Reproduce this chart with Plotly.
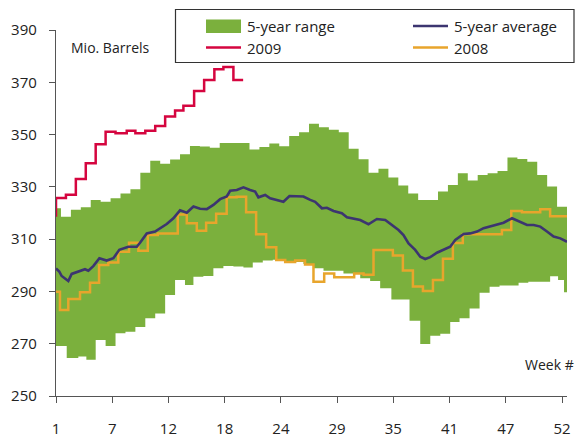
import plotly.graph_objects as go

# ---------------- data ----------------
# 5-year range: upper bound, one value per week 1..52 (+ end of week 52)
range_upper_weeks = list(range(1, 53)) + [52.5]
range_upper = [321.8, 318.6, 321.2, 322.2, 325.0, 324.3, 325.6, 327.5, 329.1, 335.4,
               340.0, 338.8, 340.5, 342.5, 345.6, 345.4, 345.0, 346.8, 346.8, 346.8,
               344.3, 345.2, 346.6, 345.5, 349.5, 350.9, 354.1, 352.8, 351.8, 350.9,
               344.6, 340.6, 335.4, 336.9, 333.6, 330.5, 327.5, 325.0, 325.0, 328.2,
               330.7, 335.2, 332.4, 334.5, 335.2, 336.1, 341.2, 340.7, 339.6, 334.5,
               330.1, 322.4, 322.4]

# 5-year range: lower bound (step start week, value)
range_lower_weeks = [1, 2.08, 3.25, 4.06, 5, 6, 7, 8, 9, 10,
                     11, 12, 13, 14, 14.85, 15.85, 16.86, 17.87, 18.88, 19.89,
                     20.83, 21.84, 22.85, 23.86, 24.93, 25.94, 26.95, 27.96, 29.97, 31.66,
                     32.66, 33.67, 34.8, 36.63, 37.71, 38.72, 39.73, 40.73, 41.67, 42.68,
                     43.69, 44.7, 45.7, 47.62, 48.6, 50.8, 51.6, 52.2, 52.5]
range_lower = [269.1, 264.5, 265.1, 263.9, 271.4, 269.1, 274.0, 274.6, 276.4, 279.7,
               281.6, 288.6, 294.4, 292.5, 295.6, 295.9, 298.9, 299.7, 299.5, 299.2,
               301.1, 301.8, 302.1, 301.6, 301.3, 300.5, 298.9, 297.9, 296.9, 295.0,
               294.0, 291.2, 286.9, 278.8, 269.9, 273.0, 273.8, 278.3, 279.7, 283.5,
               289.5, 291.8, 292.3, 293.3, 293.7, 295.8, 294.4, 289.7, 289.7]

# 5-year average
avg_weeks = [1.0, 1.33, 1.57, 2.24, 2.58, 3.25, 3.92, 4.26, 4.76, 5.37,
             6.11, 6.78, 7.38, 8.29, 9.14, 9.47, 10.15, 10.98, 11.49, 12.16,
             12.83, 13.5, 14.18, 14.85, 15.52, 16.2, 16.86, 17.54, 18.21, 18.55,
             19.22, 19.89, 20.56, 21.07, 21.4, 22.08, 22.58, 23.26, 23.92, 24.53,
             25.27, 25.94, 26.62, 27.12, 27.8, 28.3, 28.97, 29.81, 30.32, 30.98,
             31.66, 32.49, 33.34, 34.18, 34.85, 35.52, 36.02, 36.53, 37.2, 37.71,
             38.21, 38.72, 39.39, 40.06, 40.73, 41.24, 42.08, 42.75, 43.43, 44.09,
             45.1, 46.11, 46.96, 47.79, 48.47, 49.14, 49.81, 50.48, 51.15, 51.83,
             52.5]
avg_values = [298.8, 297.6, 295.9, 294.0, 296.7, 297.6, 298.5, 297.9, 299.7, 302.7,
              301.8, 302.7, 305.9, 307.1, 307.1, 308.6, 312.2, 312.9, 314.2, 315.8,
              318.0, 321.0, 320.1, 322.5, 321.6, 321.5, 323.1, 325.3, 326.3, 328.5,
              328.8, 329.8, 328.8, 328.2, 326.0, 326.9, 325.6, 325.0, 324.3, 326.5,
              326.3, 326.3, 325.0, 324.3, 321.8, 322.0, 320.8, 319.9, 318.4, 318.0,
              317.3, 315.7, 317.7, 317.3, 315.4, 313.5, 311.6, 308.4, 305.9, 303.3,
              302.4, 303.1, 304.8, 306.0, 307.1, 309.7, 312.0, 312.2, 312.9, 314.2,
              315.4, 316.3, 318.0, 316.7, 315.4, 315.4, 314.8, 312.9, 311.0, 310.3,
              309.0]

# 2009 (step start week, value)
weeks_2009 = [1, 1, 2, 3, 4, 5, 6, 7, 8.13, 9,
              10, 11, 12, 13, 13.84, 14.92, 15.93, 16.96, 17.87, 18.88,
              19.86]
values_2009 = [318.6, 325.7, 327.0, 333.0, 339.0, 346.3, 351.1, 350.5, 351.5, 350.5,
               351.5, 353.3, 356.9, 359.2, 361.0, 366.7, 370.9, 375.0, 375.8, 370.9,
               370.9]

# 2008 (step start week, value)
weeks_2008 = [1, 1.4, 2.24, 3.42, 4.43, 5.34, 6.27, 7.28, 8.36, 9.3,
              10.25, 11.26, 13.27, 14.18, 15.19, 16.13, 17.14, 18.2, 19.2, 20.16,
              21.17, 22.18, 23.2, 24.1, 25.1, 26.1, 26.95, 28.03, 29.04, 31.05,
              32.0, 33.0, 34.95, 35.96, 36.97, 37.98, 38.99, 40.0, 41.0, 42.0,
              45.94, 46.88, 47.96, 49.8, 50.8, 52.5]
values_2008 = [289.9, 282.9, 287.1, 289.7, 293.3, 300.1, 301.1, 305.2, 308.6, 305.6,
               311.6, 312.2, 319.4, 316.1, 313.2, 316.3, 319.7, 326.0, 326.2, 320.3,
               311.9, 306.9, 302.0, 301.3, 301.8, 300.3, 293.7, 296.9, 295.4, 296.9,
               296.4, 305.8, 303.7, 298.0, 291.9, 290.2, 294.4, 302.5, 308.5, 311.9,
               313.5, 320.8, 320.3, 321.4, 318.8, 318.8]

# axis ticks
x_tick_pos = [1, 6.67, 12.33, 18, 23.67, 29.33, 35, 40.67, 46.33, 52]
x_tick_labels = ["1", "7", "12", "18", "24", "29", "35", "41", "47", "52"]
y_ticks = [250, 270, 290, 310, 330, 350, 370, 390]

# ---------------- styling ----------------
GREEN = "#7bb03d"
RED = "#d5053f"
PURPLE = "#3c3570"
ORANGE = "#e8a52c"
AXIS = "#555555"
TEXT = "#222222"
FONT = "Open Sans"

W, H = 576, 437
ML, MR, MT, MB = 56, 9, 30, 41
PW, PH = W - ML - MR, H - MT - MB


def px_x(x):
    return (x - ML) / PW


def px_y(y):
    return (H - MB - y) / PH


fig = go.Figure()

fig.add_trace(go.Scatter(x=range_lower_weeks, y=range_lower, mode="lines",
                         line=dict(width=0, shape="hv", color=GREEN),
                         hoverinfo="skip", showlegend=False))
fig.add_trace(go.Scatter(x=range_upper_weeks, y=range_upper, mode="lines",
                         line=dict(width=0, shape="hvh", color=GREEN),
                         fill="tonexty", fillcolor=GREEN,
                         name="5-year range", showlegend=False))
fig.add_trace(go.Scatter(x=weeks_2008, y=values_2008, mode="lines",
                         line=dict(width=2.5, shape="hv", color=ORANGE),
                         name="2008", showlegend=False))
fig.add_trace(go.Scatter(x=avg_weeks, y=avg_values, mode="lines",
                         line=dict(width=2.6, color=PURPLE),
                         name="5-year average", showlegend=False))
fig.add_trace(go.Scatter(x=weeks_2009, y=values_2009, mode="lines",
                         line=dict(width=2.5, shape="hv", color=RED),
                         name="2009", showlegend=False))

shapes = []
annotations = []

# legend box
shapes.append(dict(type="rect", xref="paper", yref="paper",
                   x0=px_x(175.5), x1=px_x(574), y0=px_y(62.5), y1=px_y(9.5),
                   line=dict(color="#333333", width=1.2), fillcolor="white", layer="above"))
# legend swatches
shapes.append(dict(type="rect", xref="paper", yref="paper",
                   x0=px_x(206), x1=px_x(241), y0=px_y(33), y1=px_y(19.5),
                   line=dict(width=0), fillcolor=GREEN, layer="above"))
for (x0, x1, yy, col) in [(206, 241, 47.5, RED), (413, 448, 26, PURPLE), (413, 448, 47.5, ORANGE)]:
    shapes.append(dict(type="line", xref="paper", yref="paper",
                       x0=px_x(x0), x1=px_x(x1), y0=px_y(yy), y1=px_y(yy),
                       line=dict(color=col, width=2.5), layer="above"))
for (xx, yy, txt) in [(245, 26, "5-year range"), (245, 48, "2009"),
                      (452, 26, "5-year average"), (452, 48, "2008")]:
    annotations.append(dict(xref="paper", yref="paper", x=px_x(xx), y=px_y(yy),
                            text=txt, showarrow=False, xanchor="left", yanchor="middle",
                            font=dict(family=FONT, size=15, color=TEXT)))

annotations.append(dict(xref="paper", yref="paper", x=px_x(69), y=px_y(47.5),
                        text="Mio. Barrels", showarrow=False, xanchor="left",
                        yanchor="middle", font=dict(family=FONT, size=14, color=TEXT)))
annotations.append(dict(xref="paper", yref="paper", x=px_x(576), y=px_y(364),
                        text="Week #", showarrow=False, xanchor="right",
                        yanchor="middle", font=dict(family=FONT, size=14, color=TEXT)))

fig.update_layout(
    width=W, height=H,
    margin=dict(l=ML, r=MR, t=MT, b=MB, pad=0),
    paper_bgcolor="white", plot_bgcolor="white",
    showlegend=False,
    shapes=shapes, annotations=annotations,
    font=dict(family=FONT, size=15, color=TEXT),
    xaxis=dict(range=[1, 52.5], tickmode="array", tickvals=x_tick_pos,
               ticktext=x_tick_labels, showgrid=False, zeroline=False,
               showline=True, linecolor=AXIS, linewidth=1.3, automargin=False,
               ticks="outside", ticklen=6, tickwidth=1.3, tickcolor=AXIS,
               ticklabelstandoff=13, tickfont=dict(family=FONT, size=15, color=TEXT)),
    yaxis=dict(range=[250, 390], tickmode="array", tickvals=y_ticks,
               showgrid=False, zeroline=False,
               showline=True, linecolor=AXIS, linewidth=1.3, automargin=False,
               ticks="outside", ticklen=6, tickwidth=1.3, tickcolor=AXIS,
               ticklabelstandoff=9, tickfont=dict(family=FONT, size=15, color=TEXT)),
)

fig.write_html("out.html", config={"displayModeBar": False},
               post_script="document.body.style.margin='0px';document.body.style.overflow='hidden';")
